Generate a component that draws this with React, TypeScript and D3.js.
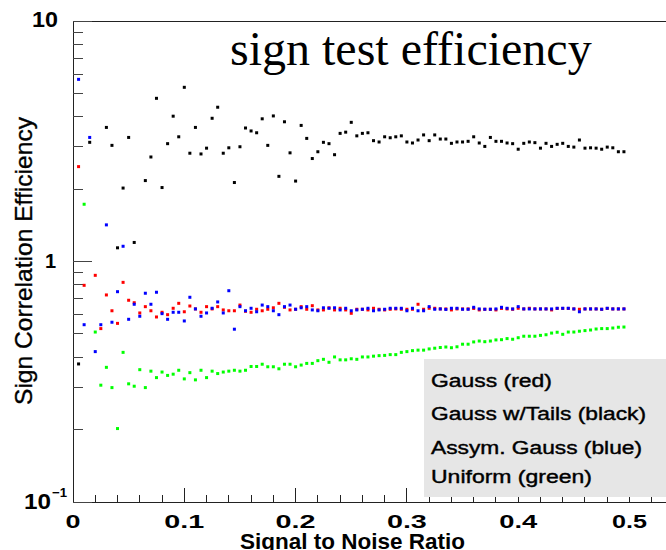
import React from "react";
import * as d3 from "d3";

// Signal-to-noise ratio at which each efficiency was evaluated
const snr = [
  0.005, 0.01, 0.015, 0.02, 0.025, 0.03, 0.035, 0.04, 0.045, 0.05,
  0.055, 0.06, 0.065, 0.07, 0.075, 0.08, 0.085, 0.09, 0.095, 0.1,
  0.105, 0.11, 0.115, 0.12, 0.125, 0.13, 0.135, 0.14, 0.145, 0.15,
  0.155, 0.16, 0.165, 0.17, 0.175, 0.18, 0.185, 0.19, 0.195, 0.2,
  0.205, 0.21, 0.215, 0.22, 0.225, 0.23, 0.235, 0.24, 0.245, 0.25,
  0.255, 0.26, 0.265, 0.27, 0.275, 0.28, 0.285, 0.29, 0.295, 0.3,
  0.305, 0.31, 0.315, 0.32, 0.325, 0.33, 0.335, 0.34, 0.345, 0.35,
  0.355, 0.36, 0.365, 0.37, 0.375, 0.38, 0.385, 0.39, 0.395, 0.4,
  0.405, 0.41, 0.415, 0.42, 0.425, 0.43, 0.435, 0.44, 0.445, 0.45,
  0.455, 0.46, 0.465, 0.47, 0.475, 0.48, 0.485, 0.49, 0.495,
];

// Sign correlation efficiency, one value per snr entry (null = no point)
const gauss: (number | null)[] = [
  2.48, 0.796, null, 0.876, 0.526, 0.726, 0.624, 0.553, 0.819, 0.69,
  0.674, 0.611, 0.649, 0.624, 0.588, 0.615, 0.601, 0.639, 0.67, 0.618,
  0.653, 0.635, 0.615, 0.649, 0.635, 0.649, 0.629, 0.624, 0.624, 0.659,
  0.621, 0.615, 0.633, 0.624, 0.633, 0.642, 0.67, 0.645, 0.629, 0.633,
  0.649, 0.633, 0.655, 0.629, 0.629, 0.642, 0.629, 0.639, 0.629, 0.609,
  0.633, 0.633, 0.629, 0.639, 0.633, 0.629, 0.633, 0.635, 0.633, 0.633,
  0.633, 0.664, 0.633, 0.639, 0.639, 0.635, 0.635, 0.629, 0.635, 0.635,
  0.635, 0.638, 0.629, 0.633, 0.633, 0.629, 0.638, 0.635, 0.633, 0.639,
  0.635, 0.639, 0.635, 0.635, 0.635, 0.629, 0.638, 0.638, 0.638, 0.635,
  0.633, 0.635, 0.635, 0.635, 0.633, 0.638, 0.635, 0.635, 0.635,
];

const gaussTails: (number | null)[] = [
  0.375, null, 3.13, null, null, 3.61, 3.04, 1.14, 2.02, 3.28,
  1.2, null, 2.17, 2.72, 4.77, 2.03, 3.09, 4.02, 3.3, 5.3,
  2.82, 3.61, 2.8, 2.96, 3.94, 4.38, 2.82, 2.97, 2.13, 3.0,
  3.59, 3.49, 3.43, 3.92, 3.04, 4.03, 2.26, 3.81, 2.83, 2.16,
  3.68, 3.25, 2.68, 2.86, 3.13, 3.09, 2.78, 3.41, 3.45, 3.79,
  3.33, 3.41, 3.43, 3.18, 3.14, 3.3, 3.27, 3.3, 3.33, 3.14,
  3.11, 3.2, 3.36, 3.18, 3.36, 3.23, 3.23, 3.1, 3.14, 3.14,
  3.16, 3.3, 3.11, 3.01, 3.28, 3.16, 3.16, 3.11, 3.09, 2.93,
  3.1, 3.14, 3.12, 2.96, 3.1, 3.01, 3.07, 3.1, 3.01, 2.99,
  3.2, 2.96, 2.97, 2.96, 2.93, 2.99, 2.97, 2.86, 2.86,
];

const assymGauss: (number | null)[] = [
  5.72, 0.546, 3.28, 0.422, 0.546, 1.42, 0.559, 0.749, 1.157, 0.575,
  0.664, 0.592, 0.738, 0.664, 0.745, 0.607, 0.575, 0.615, 0.615, 0.566,
  0.71, 0.635, 0.592, 0.611, 0.639, 0.679, 0.611, 0.756, 0.523, 0.649,
  0.624, 0.639, 0.618, 0.659, 0.649, 0.624, 0.601, 0.649, 0.659, 0.633,
  0.642, 0.649, 0.629, 0.624, 0.642, 0.639, 0.642, 0.629, 0.639, 0.624,
  0.629, 0.633, 0.639, 0.624, 0.629, 0.633, 0.639, 0.639, 0.639, 0.624,
  0.639, 0.624, 0.624, 0.649, 0.633, 0.635, 0.632, 0.639, 0.639, 0.633,
  0.633, 0.645, 0.635, 0.633, 0.633, 0.635, 0.645, 0.639, 0.635, 0.649,
  0.635, 0.635, 0.635, 0.635, 0.635, 0.635, 0.639, 0.639, 0.639, 0.635,
  0.618, 0.635, 0.635, 0.635, 0.633, 0.639, 0.635, 0.635, 0.635,
];

const uniform: (number | null)[] = [
  null, 1.73, null, 0.509, 0.306, 0.363, 0.299, 0.202, 0.419, 0.31,
  0.303, 0.355, 0.299, 0.35, 0.329, 0.347, 0.336, 0.34, 0.353, 0.325,
  0.345, 0.322, 0.353, 0.329, 0.35, 0.342, 0.347, 0.35, 0.353, 0.35,
  0.353, 0.366, 0.366, 0.374, 0.365, 0.365, 0.358, 0.374, 0.374, 0.365,
  0.371, 0.377, 0.377, 0.387, 0.392, 0.381, 0.401, 0.39, 0.39, 0.394,
  0.392, 0.401, 0.401, 0.404, 0.406, 0.407, 0.41, 0.41, 0.419, 0.422,
  0.426, 0.428, 0.428, 0.433, 0.436, 0.439, 0.441, 0.438, 0.442, 0.453,
  0.453, 0.463, 0.467, 0.464, 0.467, 0.472, 0.473, 0.478, 0.475, 0.482,
  0.489, 0.489, 0.489, 0.493, 0.496, 0.504, 0.508, 0.498, 0.509, 0.509,
  0.513, 0.516, 0.519, 0.524, 0.526, 0.526, 0.529, 0.533, 0.534,
];

const xTickLabels = ["0", "0.1", "0.2", "0.3", "0.4", "0.5"];
const xTickLabelWidths = [15, 40, 40, 40, 38, 35];

const legendLabels = [
  "Gauss (red)",
  "Gauss w/Tails (black)",
  "Assym. Gauss (blue)",
  "Uniform (green)",
];
const legendWidths = [121, 215, 211, 161];

const series = [
  { values: gaussTails, color: "#000000" },
  { values: uniform, color: "#00ff00" },
  { values: gauss, color: "#ff0000" },
  { values: assymGauss, color: "#0000ff" },
];

const W = 666;
const H = 550;
const left = 73;
const top = 21;
const bottom = 502;

const x = d3.scaleLinear().domain([0, 0.55]).range([left, left + 0.55 * 1113]);
const y = d3.scaleLog().domain([0.1, 10]).range([bottom, top]);

const sans = "'Liberation Sans', Arial, Helvetica, sans-serif";
const serif = "'Liberation Serif', 'Times New Roman', serif";

export default function App() {
  const yTicks = y.ticks();
  const xTicks = d3.range(0, 0.5401, 0.02);
  const isDecade = (v: number) => Math.abs(Math.log10(v) - Math.round(Math.log10(v))) < 1e-6;
  const isTenth = (v: number) => Math.abs(v * 10 - Math.round(v * 10)) < 1e-6;
  const right = x.range()[1];

  return (
    <svg
      width={W}
      height={H}
      viewBox={`0 0 ${W} ${H}`}
      style={{ position: "absolute", left: 0, top: 0, background: "#fff" }}
    >
      <rect x={0} y={0} width={W} height={H} fill="#fff" />

      {/* frame */}
      <g stroke="#222" strokeWidth={1} shapeRendering="crispEdges" fill="none">
        <line x1={left} y1={top} x2={right} y2={top} />
        <line x1={left} y1={top} x2={left} y2={bottom} />
        <line x1={left} y1={bottom} x2={right} y2={bottom} />
      </g>

      {/* y ticks */}
      <g stroke="#444" strokeWidth={1} shapeRendering="crispEdges">
        {yTicks.map((t, i) => {
          const len = isDecade(t) ? 19 : 10;
          return <line key={i} x1={left} x2={left + len} y1={y(t)} y2={y(t)} />;
        })}
      </g>

      {/* x ticks */}
      <g stroke="#222" strokeWidth={1} shapeRendering="crispEdges">
        {xTicks.map((t, i) => {
          const len = isTenth(t) ? 14 : 7;
          return <line key={i} x1={x(t)} x2={x(t)} y1={bottom} y2={bottom - len} />;
        })}
      </g>

      {/* data points */}
      {series.map((s, si) => (
        <g key={si} fill={s.color}>
          {s.values.map((v, i) =>
            v == null ? null : (
              <rect key={i} x={x(snr[i]) - 1.5} y={y(v) - 1.5} width={3} height={3} />
            )
          )}
        </g>
      ))}

      {/* y tick labels */}
      <g fontFamily={sans} fontWeight="bold" fill="#000">
        <text x={58} y={y(10) + 6} fontSize={22} textAnchor="end" textLength={26} lengthAdjust="spacingAndGlyphs">
          10
        </text>
        <text x={56} y={y(1) + 6.5} fontSize={20} textAnchor="end">
          1
        </text>
        <text x={51} y={y(0.1) + 7} fontSize={22} textAnchor="end" textLength={27} lengthAdjust="spacingAndGlyphs">
          10
        </text>
        <text x={52} y={y(0.1) - 5} fontSize={13} textLength={15} lengthAdjust="spacingAndGlyphs">
          −1
        </text>
      </g>

      {/* x tick labels */}
      <g fontFamily={sans} fontWeight="bold" fill="#000" fontSize={19}>
        {xTickLabels.map((lab, i) => {
          const cx = x(i * 0.1);
          const w = xTickLabelWidths[i];
          return (
            <text key={lab} x={cx - w / 2} y={528} textLength={w} lengthAdjust="spacingAndGlyphs">
              {lab}
            </text>
          );
        })}
      </g>

      {/* axis titles */}
      <text
        transform="translate(32, 261) rotate(-90)"
        textAnchor="middle"
        fontFamily={sans}
        fontSize={24}
        textLength={288}
        lengthAdjust="spacingAndGlyphs"
        fill="#000"
        stroke="#000"
        strokeWidth={0.35}
      >
        Sign Correlation Efficiency
      </text>
      <text
        x={240}
        y={549}
        fontFamily={sans}
        fontWeight="bold"
        fontSize={22}
        textLength={225}
        lengthAdjust="spacingAndGlyphs"
        fill="#000"
      >
        Signal to Noise Ratio
      </text>

      {/* title */}
      <text x={230} y={65} fontFamily={serif} fontSize={48} fill="#000">
        sign test efficiency
      </text>

      {/* legend */}
      <rect x={424} y={359} width={260} height={138} fill="#e6e6e6" />
      <g fontFamily={sans} fontSize={18} fill="#000" stroke="#000" strokeWidth={0.4}>
        {legendLabels.map((lab, i) => (
          <text
            key={lab}
            x={431}
            y={[387, 420, 454, 483][i]}
            textLength={legendWidths[i]}
            lengthAdjust="spacingAndGlyphs"
          >
            {lab}
          </text>
        ))}
      </g>
    </svg>
  );
}
